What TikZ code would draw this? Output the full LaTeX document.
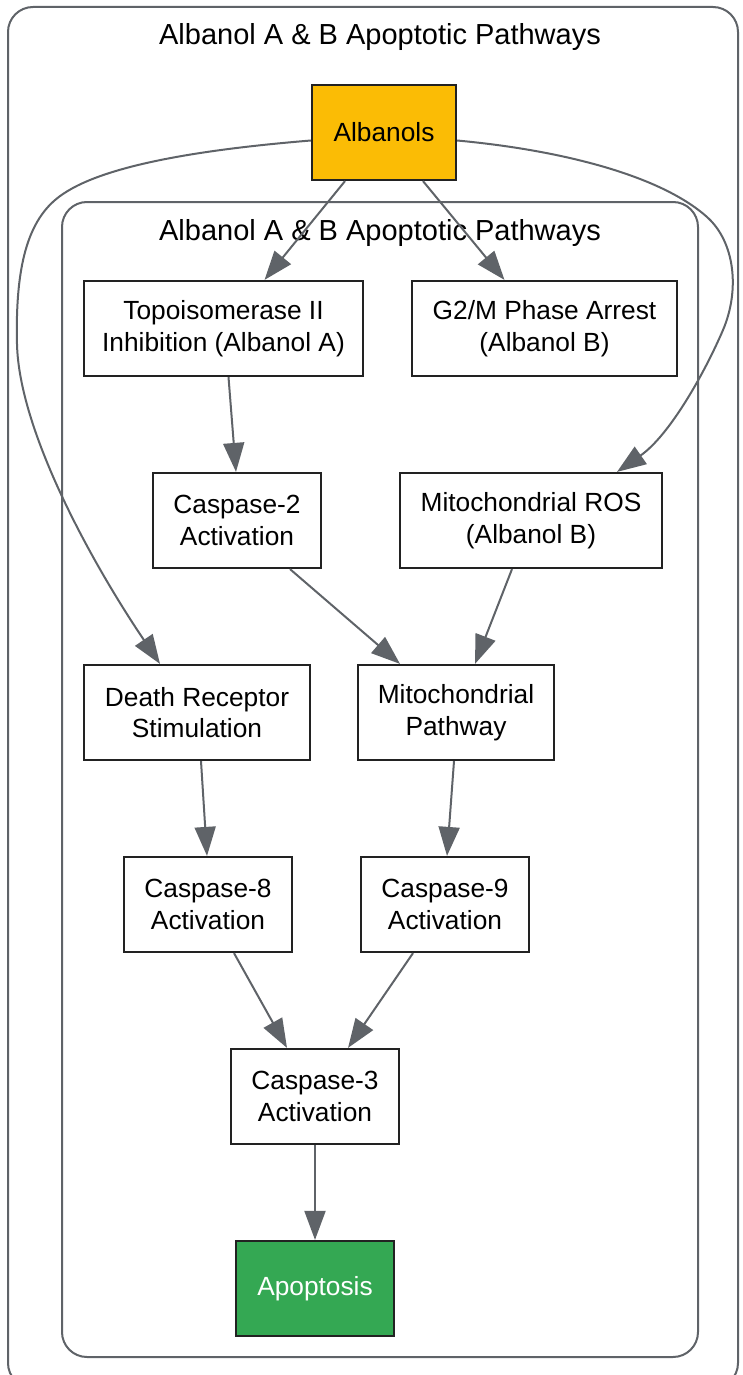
\documentclass[tikz,border=0pt]{standalone}
\usepackage{fontspec}
\setmainfont{Liberation Sans}
\usetikzlibrary{arrows.meta}

\definecolor{edgegray}{HTML}{5F6368}
\definecolor{boxline}{HTML}{222222}
\definecolor{albyellow}{HTML}{FBBC05}
\definecolor{apogreen}{HTML}{34A853}
\newcommand{\boxfont}{\fontsize{26.3}{31.5}\selectfont}
\newcommand{\titlefont}{\fontsize{29}{34}\selectfont}

\tikzset{
    stepbox/.style={draw=boxline, line width=2.2pt, fill=white, minimum height=95pt,
        inner sep=0pt, align=center, font=\boxfont},
    cluster/.style={draw=edgegray, line width=2pt, rounded corners=25pt},
    clustertitle/.style={anchor=base, inner sep=0pt, font=\titlefont},
    flow/.style={draw=edgegray, line width=2pt, -{Triangle[length=29pt, width=21pt]}}
}

\begin{document}
\begin{tikzpicture}[x=1pt, y=-1pt]
    \clip (0,0) rectangle (743,1375);

    % Clusters
    \draw[cluster] (8,7) rectangle (738,1388);
    \draw[cluster] (62,202) rectangle (698,1357);
    \node[clustertitle] (outertitle) at (380,45) {Albanol A \& B Apoptotic Pathways};
    \node[clustertitle] (innertitle) at (380,240) {Albanol A \& B Apoptotic Pathways};

    % Nodes
    \node[stepbox, fill=albyellow, minimum width=144pt] (alb) at (384,132.5) {Albanols};
    \node[stepbox, minimum width=279pt] (topo) at (223.5,328.5) {Topoisomerase II\\Inhibition (Albanol A)};
    \node[stepbox, minimum width=265pt] (g2m) at (544.5,328.5) {G2/M Phase Arrest\\(Albanol B)};
    \node[stepbox, minimum width=168pt] (casp2) at (237,520.5) {Caspase-2\\Activation};
    \node[stepbox, minimum width=262pt] (ros) at (531,520.5) {Mitochondrial ROS\\(Albanol B)};
    \node[stepbox, minimum width=226pt] (dr) at (197,712.5) {Death Receptor\\Stimulation};
    \node[stepbox, minimum width=196pt] (mito) at (456,712.5) {Mitochondrial\\Pathway};
    \node[stepbox, minimum width=168pt] (casp8) at (208,904.5) {Caspase-8\\Activation};
    \node[stepbox, minimum width=168pt] (casp9) at (445,904.5) {Caspase-9\\Activation};
    \node[stepbox, minimum width=168pt] (casp3) at (315,1096.5) {Caspase-3\\Activation};
    \node[stepbox, fill=apogreen, text=white, minimum width=158pt] (apo) at (315,1288.5) {Apoptosis};

    % Straight edges
    \draw[flow] ([xshift=-39pt]alb.south) -- ([xshift=41pt]topo.north);
    \draw[flow] ([xshift=39pt]alb.south) -- ([xshift=-40pt]g2m.north);
    \draw[flow] ([xshift=5pt]topo.south) -- ([xshift=-1pt]casp2.north);
    \draw[flow] ([xshift=53pt]casp2.south) -- ([xshift=-56pt]mito.north);
    \draw[flow] ([xshift=-19pt]ros.south) -- ([xshift=19pt]mito.north);
    \draw[flow] ([xshift=4pt]dr.south) -- ([xshift=-1pt]casp8.north);
    \draw[flow] ([xshift=-2pt]mito.south) -- ([xshift=2pt]casp9.north);
    \draw[flow] ([xshift=26pt]casp8.south) -- ([xshift=-28pt]casp3.north);
    \draw[flow] ([xshift=-32pt]casp9.south) -- ([xshift=33pt]casp3.north);
    \draw[flow] (casp3.south) -- (apo.north);

    % Curved edges round the inner cluster
    \draw[flow] ([yshift=-8pt]alb.west) .. controls (220,148) and (110,162) .. (63,194)
        .. controls (30,216) and (15,260) .. (17,344)
        .. controls (19,430) and (90,560) .. ([xshift=-37pt]dr.north);
    \draw[flow] ([yshift=-8pt]alb.east) .. controls (560,150) and (660,175) .. (707,217)
        .. controls (735,242) and (740,290) .. (723,330)
        .. controls (705,372) and (670,435) .. ([xshift=86pt]ros.north);
\end{tikzpicture}
\end{document}
